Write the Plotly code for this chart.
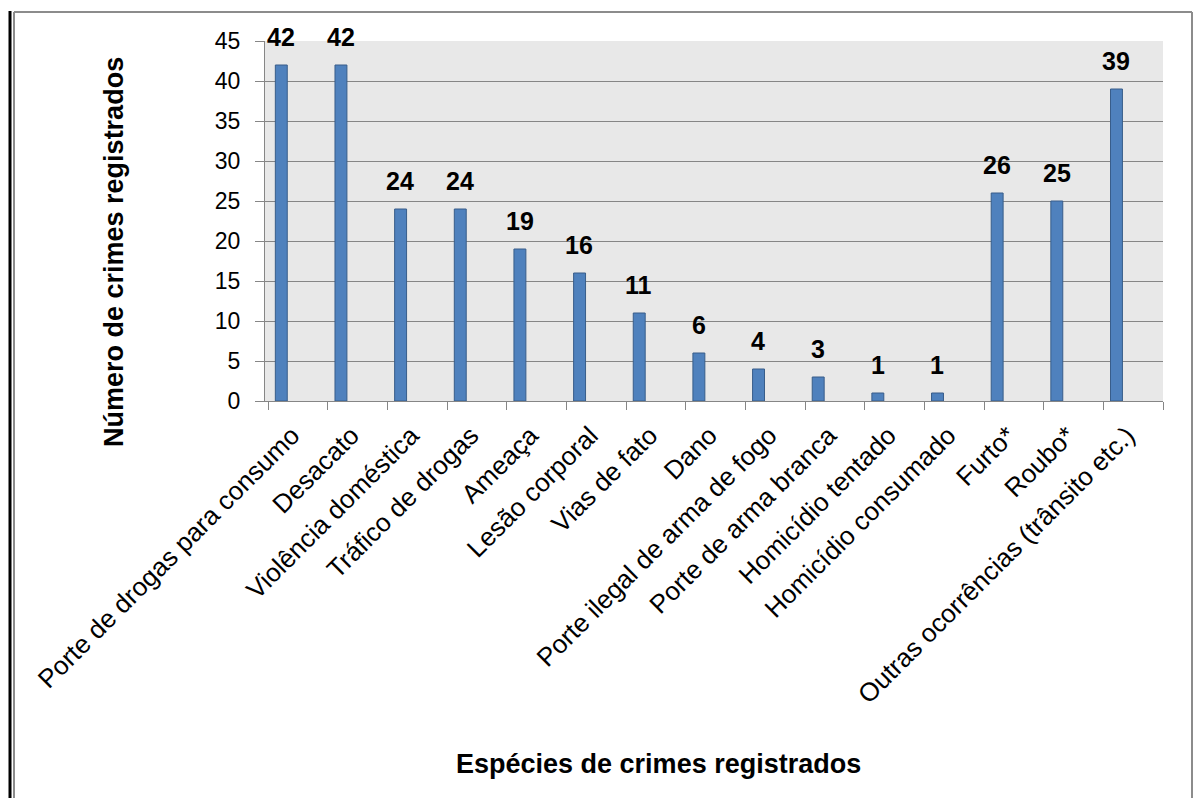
import plotly.graph_objects as go

categories = [
    "Porte de drogas para consumo", "Desacato", "Violência doméstica",
    "Tráfico de drogas", "Ameaça", "Lesão corporal", "Vias de fato", "Dano",
    "Porte ilegal de arma de fogo", "Porte de arma branca",
    "Homicídio tentado", "Homicídio consumado", "Furto*", "Roubo*",
    "Outras ocorrências (trânsito etc.)",
]
values = [42, 42, 24, 24, 19, 16, 11, 6, 4, 3, 1, 1, 26, 25, 39]
y_ticks = [0, 5, 10, 15, 20, 25, 30, 35, 40, 45]

W, H = 1194, 798
L, R, T, B = 265, 1163, 41, 401

def px(x):
    return (x - L) / (R - L)

def py(y):
    return (B - y) / (B - T)

FONT = "Liberation Sans, Arial, sans-serif"

fig = go.Figure()
fig.add_trace(go.Bar(
    x=categories, y=values, width=0.2, offset=-0.38,
    marker=dict(color="#4f81bd", line=dict(color="#385d8a", width=1)),
    hoverinfo="x+y",
))

annotations = []
for c, v in zip(categories, values):
    annotations.append(dict(
        x=c, y=v, xref="x", yref="y", text=str(v), showarrow=False,
        yanchor="bottom", yshift=12, xshift=-17,
        font=dict(family=FONT, size=25, color="black", weight="bold"),
    ))

annotations.append(dict(
    x=px(658), y=py(764), xref="paper", yref="paper",
    text="Espécies de crimes registrados", showarrow=False,
    xanchor="center", yanchor="middle",
    font=dict(family=FONT, size=27, color="black", weight="bold"),
))
annotations.append(dict(
    x=px(114), y=py(252), xref="paper", yref="paper",
    text="Número de crimes registrados", showarrow=False, textangle=-90,
    xanchor="center", yanchor="middle",
    font=dict(family=FONT, size=27, color="black", weight="bold"),
))

shapes = [
    dict(type="line", xref="paper", yref="paper", x0=px(10), x1=px(10),
         y0=py(11), y1=py(800), line=dict(color="black", width=3)),
    dict(type="line", xref="paper", yref="paper", x0=px(14), x1=px(14),
         y0=py(12), y1=py(800), line=dict(color="#8c8c8c", width=2)),
    dict(type="line", xref="paper", yref="paper", x0=px(14), x1=px(1192),
         y0=py(12), y1=py(12), line=dict(color="#8c8c8c", width=2)),
    dict(type="line", xref="paper", yref="paper", x0=px(1192), x1=px(1192),
         y0=py(12), y1=py(800), line=dict(color="#8c8c8c", width=2)),
]

fig.update_layout(
    width=W, height=H,
    margin=dict(l=L, r=W - R, t=T, b=H - B, pad=0),
    paper_bgcolor="white", plot_bgcolor="#e8e8e8",
    showlegend=False,
    annotations=annotations, shapes=shapes,
    font=dict(family=FONT, color="black"),
)
fig.update_xaxes(
    type="category", tickangle=-45, tickson="boundaries",
    ticks="outside", ticklen=8, tickcolor="#868686",
    showline=True, linecolor="#868686", linewidth=1, automargin=False,
    showgrid=False, tickfont=dict(family=FONT, size=26, color="black"),
    ticklabelstandoff=8, ticklabelshift=-6,
)
fig.update_yaxes(
    range=[0, 45], tickvals=y_ticks, ticks="outside", ticklen=9,
    tickcolor="#868686", showline=True, linecolor="#868686", linewidth=1,
    showgrid=True, gridcolor="#868686", gridwidth=1, zeroline=False,
    automargin=False,
    tickfont=dict(family=FONT, size=23, color="black"),
    ticklabelstandoff=10,
)

fig.write_html("out.html")
